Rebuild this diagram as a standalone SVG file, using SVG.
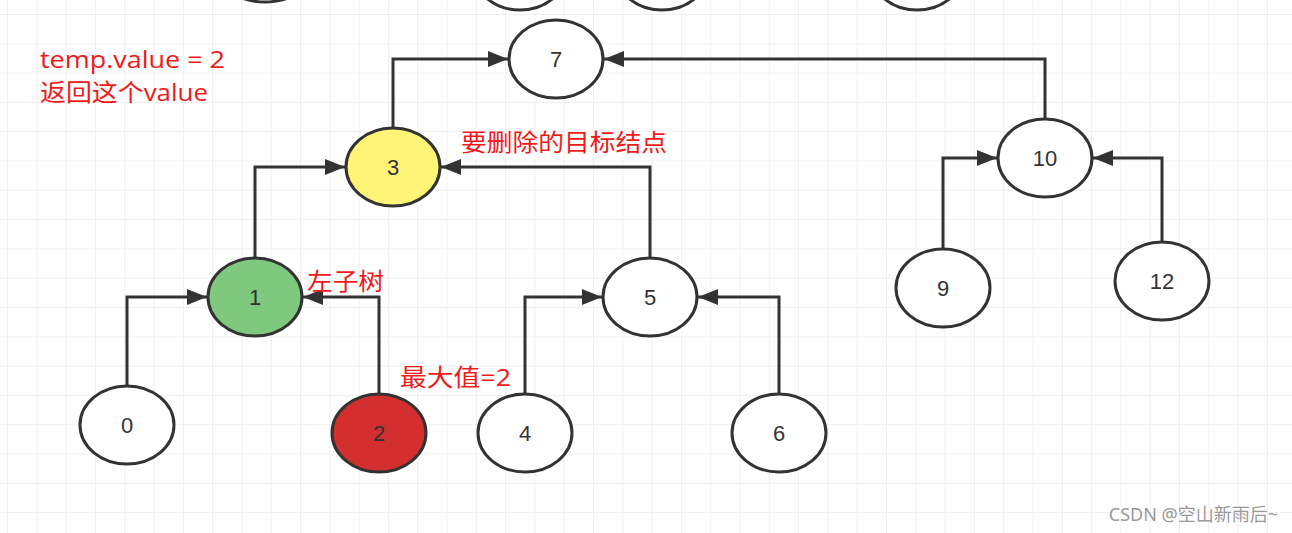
<svg xmlns="http://www.w3.org/2000/svg" width="1292" height="533" viewBox="0 0 1292 533">
<defs>
<pattern id="g" width="29.3" height="29.3" patternUnits="userSpaceOnUse" x="8" y="15">
<path d="M29.3 0V29.3M0 29.3H29.3" fill="none" stroke="#e2e2e2" stroke-width="1"/>
</pattern>
<marker id="b" viewBox="0 0 10 10" refX="10" refY="5" markerWidth="20" markerHeight="20" orient="auto" markerUnits="userSpaceOnUse"><path d="M0 1L10 5L0 9Z" fill="#333"/></marker>
</defs>
<style>
ellipse{stroke:#333;stroke-width:3;fill:#fff}
.n{font:22px "Liberation Sans","Noto Sans CJK SC",sans-serif;fill:#333;text-anchor:middle;dominant-baseline:central}
.r{font:24px "Open Sans","Noto Sans CJK SC",sans-serif;fill:#f01a1a}
path.c{fill:none;stroke:#333;stroke-width:3;marker-end:url(#b)}
</style>
<rect width="1292" height="533" fill="#fff"/>
<rect width="1292" height="533" fill="url(#g)"/>
<g id="tops">
<ellipse cx="265" cy="-30" rx="47" ry="32" fill="#333"/>
<ellipse cx="520" cy="-30" rx="47" ry="40"/>
<ellipse cx="662" cy="-30" rx="47" ry="40"/>
<ellipse cx="917" cy="-30" rx="47" ry="40"/>
</g>
<g id="connectors">
<path class="c" d="M393 127V59H508"/>
<path class="c" d="M1045 118V59H604"/>
<path class="c" d="M255 257V167H345"/>
<path class="c" d="M650 257V167H441"/>
<path class="c" d="M127 385V297H207"/>
<path class="c" d="M379 393V297H303"/>
<path class="c" d="M525 393V297H602"/>
<path class="c" d="M779 393V297H698"/>
<path class="c" d="M943 248V158H997"/>
<path class="c" d="M1162 241V158H1093"/>
</g>
<g id="n7"><ellipse cx="556" cy="59" rx="47" ry="39"/><text class="n" x="556" y="59">7</text></g>
<g id="n3"><ellipse cx="393" cy="167" rx="47" ry="39" style="fill:#fff475"/><text class="n" x="393" y="167">3</text></g>
<g id="n10"><ellipse cx="1045" cy="158" rx="47" ry="39"/><text class="n" x="1045" y="158">10</text></g>
<g id="n1"><ellipse cx="255" cy="297" rx="47" ry="39" style="fill:#7fc97f"/><text class="n" x="255" y="297">1</text></g>
<g id="n5"><ellipse cx="650" cy="297" rx="47" ry="39"/><text class="n" x="650" y="297">5</text></g>
<g id="n9"><ellipse cx="943" cy="288" rx="47" ry="39"/><text class="n" x="943" y="288">9</text></g>
<g id="n12"><ellipse cx="1162" cy="281" rx="47" ry="39"/><text class="n" x="1162" y="281">12</text></g>
<g id="n0"><ellipse cx="127" cy="425" rx="47" ry="39"/><text class="n" x="127" y="425">0</text></g>
<g id="n2"><ellipse cx="379" cy="433" rx="47" ry="39" style="fill:#d32f2f"/><text class="n" x="379" y="433">2</text></g>
<g id="n4"><ellipse cx="525" cy="433" rx="47" ry="39"/><text class="n" x="525" y="433">4</text></g>
<g id="n6"><ellipse cx="779" cy="433" rx="47" ry="39"/><text class="n" x="779" y="433">6</text></g>
<g id="labels">
<text class="r" x="40" y="68" textLength="185" lengthAdjust="spacingAndGlyphs">temp.value = 2</text>
<text class="r" x="40" y="101" textLength="168" lengthAdjust="spacingAndGlyphs">返回这个value</text>
<text class="r" x="461" y="151" textLength="206" lengthAdjust="spacingAndGlyphs">要删除的目标结点</text>
<text class="r" x="307" y="290" textLength="77" lengthAdjust="spacingAndGlyphs">左子树</text>
<text class="r" x="400" y="386" textLength="111" lengthAdjust="spacingAndGlyphs">最大值=2</text>
<text x="1278" y="521" style="font:18px 'Noto Sans','Noto Sans CJK SC',sans-serif;fill:#999;text-anchor:end">CSDN @空山新雨后~</text>
</g>
</svg>
